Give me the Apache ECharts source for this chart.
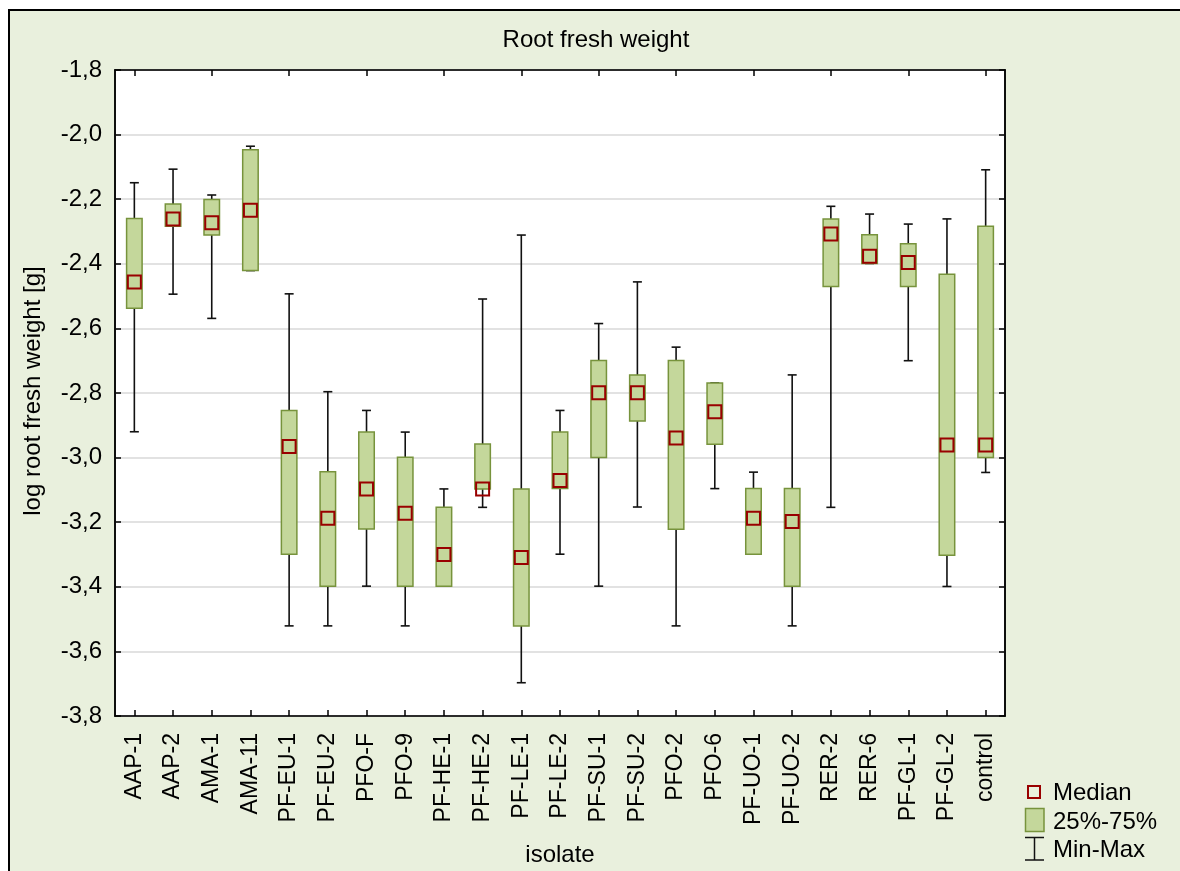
<!DOCTYPE html>
<html>
<head>
<meta charset="utf-8">
<script src="https://cdn.jsdelivr.net/npm/echarts@6/dist/echarts.min.js"></script>
<style>
  html, body { margin: 0; padding: 0; background: #ffffff; }
  #chart { width: 1180px; height: 871px; }
</style>
</head>
<body>
<div id="chart"></div>
<script>
// Isolates on the category axis
const categories = ['AAP-1', 'AAP-2', 'AMA-1', 'AMA-11', 'PF-EU-1', 'PF-EU-2', 'PFO-F', 'PFO-9',
  'PF-HE-1', 'PF-HE-2', 'PF-LE-1', 'PF-LE-2', 'PF-SU-1', 'PF-SU-2', 'PFO-2', 'PFO-6',
  'PF-UO-1', 'PF-UO-2', 'RER-2', 'RER-6', 'PF-GL-1', 'PF-GL-2', 'control'];

// log root fresh weight [g] summary per isolate
const minVals = [-2.920, -2.494, -2.569, -2.421, -3.521, -3.521, -3.398, -3.521, -3.398, -3.154, -3.697, -3.299,
  -3.398, -3.153, -3.521, -3.096, -3.299, -3.521, -3.154, -2.399, -2.700, -3.399, -3.046];
const q1Vals = [-2.538, -2.284, -2.311, -2.421, -3.299, -3.398, -3.221, -3.398, -3.398, -3.097, -3.521, -3.096,
  -3.000, -2.887, -3.222, -2.959, -3.299, -3.398, -2.470, -2.399, -2.470, -3.302, -3.000];
const medianVals = [-2.456, -2.261, -2.273, -2.234, -2.966, -3.188, -3.097, -3.172, -3.300, -3.097, -3.309, -3.071,
  -2.799, -2.799, -2.939, -2.858, -3.188, -3.198, -2.308, -2.377, -2.396, -2.961, -2.961];
const q3Vals = [-2.260, -2.215, -2.201, -2.047, -2.854, -3.044, -2.921, -2.999, -3.154, -2.958, -3.097, -2.921,
  -2.699, -2.744, -2.699, -2.769, -3.096, -3.096, -2.261, -2.310, -2.338, -2.432, -2.284];
const maxVals = [-2.149, -2.107, -2.187, -2.036, -2.493, -2.796, -2.854, -2.921, -3.097, -2.509, -2.311, -2.854,
  -2.585, -2.456, -2.658, -2.769, -3.045, -2.744, -2.222, -2.246, -2.277, -2.261, -2.109];

// Value axis range and step
const yMin = -3.8;
const yMax = -1.8;
const yStep = 0.2;

const FONT = '"Liberation Sans", Arial, sans-serif';
const BOX_FILL = '#c4d79b';
const BOX_EDGE = '#77933c';
const MEDIAN_EDGE = '#990000';
const PANEL_BG = '#e9f0dd';

const boxData = categories.map((c, i) => [i, minVals[i], q1Vals[i], medianVals[i], q3Vals[i], maxVals[i]]);

function renderBox(params, api) {
  const i = api.value(0);
  const pMin = api.coord([i, api.value(1)]);
  const pQ1 = api.coord([i, api.value(2)]);
  const pMed = api.coord([i, api.value(3)]);
  const pQ3 = api.coord([i, api.value(4)]);
  const pMax = api.coord([i, api.value(5)]);
  const x = pMed[0];
  const boxW = 15.5;
  const capW = 9;
  const sq = 13;
  const black = { stroke: '#111', lineWidth: 1.6 };
  return {
    type: 'group',
    children: [
      { type: 'line', shape: { x1: x, y1: pMax[1], x2: x, y2: pMin[1] }, style: black },
      { type: 'line', shape: { x1: x - capW / 2, y1: pMax[1], x2: x + capW / 2, y2: pMax[1] }, style: black },
      { type: 'line', shape: { x1: x - capW / 2, y1: pMin[1], x2: x + capW / 2, y2: pMin[1] }, style: black },
      {
        type: 'rect',
        shape: { x: x - boxW / 2, y: pQ3[1], width: boxW, height: pQ1[1] - pQ3[1] },
        style: { fill: BOX_FILL, stroke: BOX_EDGE, lineWidth: 1.5 }
      },
      {
        type: 'rect',
        shape: { x: x - sq / 2, y: pMed[1] - sq / 2, width: sq, height: sq },
        style: { fill: 'none', stroke: MEDIAN_EDGE, lineWidth: 2 }
      }
    ]
  };
}

const chart = echarts.init(document.getElementById('chart'), null, { renderer: 'canvas' });

const commaFmt = v => v.toFixed(1).replace('.', ',');

chart.setOption({
  animation: false,
  backgroundColor: 'transparent',
  grid: {
    left: 115, right: 175, top: 70, bottom: 155,
    show: true, backgroundColor: '#ffffff', borderColor: '#000', borderWidth: 1.5
  },
  xAxis: [
    {
      type: 'category', data: categories, position: 'bottom', boundaryGap: true,
      axisLine: { show: true, lineStyle: { color: '#000', width: 1.5 } },
      axisTick: { show: true, inside: true, alignWithLabel: true, length: 6, lineStyle: { color: '#000', width: 1.5 } },
      axisLabel: { rotate: 90, interval: 0, margin: 17, color: '#000', fontSize: 23, fontFamily: FONT },
      splitLine: { show: false }
    },
    {
      type: 'category', data: categories, position: 'top', boundaryGap: true,
      axisLine: { show: true, lineStyle: { color: '#000', width: 1.5 } },
      axisTick: { show: true, inside: true, alignWithLabel: true, length: 6, lineStyle: { color: '#000', width: 1.5 } },
      axisLabel: { show: false },
      splitLine: { show: false }
    }
  ],
  yAxis: [
    {
      type: 'value', min: yMin, max: yMax, interval: yStep, position: 'left',
      axisLine: { show: true, lineStyle: { color: '#000', width: 1.5 } },
      axisTick: { show: true, inside: true, length: 6, lineStyle: { color: '#000', width: 1.5 } },
      axisLabel: { margin: 13, color: '#000', fontSize: 24, fontFamily: FONT, formatter: commaFmt },
      splitLine: { show: true, lineStyle: { color: '#d9d9d9', width: 1.5 } }
    },
    {
      type: 'value', min: yMin, max: yMax, interval: yStep, position: 'right',
      axisLine: { show: true, lineStyle: { color: '#000', width: 1.5 } },
      axisTick: { show: true, inside: true, length: 6, lineStyle: { color: '#000', width: 1.5 } },
      axisLabel: { show: false },
      splitLine: { show: false }
    }
  ],
  series: [
    {
      type: 'custom',
      name: 'Root fresh weight',
      xAxisIndex: 0,
      yAxisIndex: 0,
      renderItem: renderBox,
      encode: { x: 0, y: [1, 2, 3, 4, 5] },
      data: boxData,
      z: 5
    }
  ],
  graphic: [
    // panel background and frame
    {
      type: 'rect', z: -100, silent: true,
      shape: { x: 9, y: 10, width: 1200, height: 900 },
      style: { fill: PANEL_BG, stroke: '#000', lineWidth: 2 }
    },
    // title
    {
      type: 'text', z: 10, x: 596, y: 40,
      style: { text: 'Root fresh weight', fill: '#000', font: '24px ' + FONT, textAlign: 'center', textVerticalAlign: 'middle' }
    },
    // axis names
    {
      type: 'text', z: 10, x: 560, y: 855,
      style: { text: 'isolate', fill: '#000', font: '24px ' + FONT, textAlign: 'center', textVerticalAlign: 'middle' }
    },
    {
      type: 'text', z: 10, x: 33, y: 391, rotation: Math.PI / 2,
      style: { text: 'log root fresh weight [g]', fill: '#000', font: '24px ' + FONT, textAlign: 'center', textVerticalAlign: 'middle' }
    },
    // legend: median
    {
      type: 'rect', z: 10,
      shape: { x: 1028, y: 786, width: 12, height: 12 },
      style: { fill: 'none', stroke: MEDIAN_EDGE, lineWidth: 2 }
    },
    {
      type: 'text', z: 10, x: 1053, y: 793,
      style: { text: 'Median', fill: '#000', font: '24px ' + FONT, textAlign: 'left', textVerticalAlign: 'middle' }
    },
    // legend: quartile box
    {
      type: 'rect', z: 10,
      shape: { x: 1025.5, y: 808.5, width: 18.5, height: 23 },
      style: { fill: BOX_FILL, stroke: BOX_EDGE, lineWidth: 1.5 }
    },
    {
      type: 'text', z: 10, x: 1053, y: 822,
      style: { text: '25%-75%', fill: '#000', font: '24px ' + FONT, textAlign: 'left', textVerticalAlign: 'middle' }
    },
    // legend: whisker range
    {
      type: 'polyline', z: 10,
      shape: { points: [[1025, 837.5], [1044, 837.5]] },
      style: { stroke: '#111', lineWidth: 1.5, fill: 'none' }
    },
    {
      type: 'polyline', z: 10,
      shape: { points: [[1034.5, 837.5], [1034.5, 860]] },
      style: { stroke: '#111', lineWidth: 1.5, fill: 'none' }
    },
    {
      type: 'polyline', z: 10,
      shape: { points: [[1025, 860], [1044, 860]] },
      style: { stroke: '#111', lineWidth: 1.5, fill: 'none' }
    },
    {
      type: 'text', z: 10, x: 1053, y: 850,
      style: { text: 'Min-Max', fill: '#000', font: '24px ' + FONT, textAlign: 'left', textVerticalAlign: 'middle' }
    }
  ]
});
</script>
</body>
</html>
